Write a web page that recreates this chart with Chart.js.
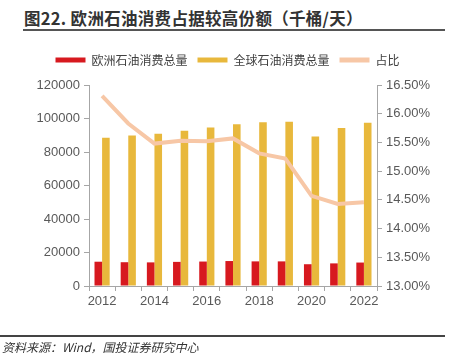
<!DOCTYPE html>
<html>
<head>
<meta charset="utf-8">
<script src="https://cdn.jsdelivr.net/npm/chart.js@4/dist/chart.umd.min.js"></script>
<style>
  body { margin: 0; width: 455px; height: 360px; background: #fff; position: relative; overflow: hidden;
         font-family: "Noto Sans CJK SC", sans-serif; }
  #title { position: absolute; left: 24px; top: 6px; font-size: 16.5px; font-weight: bold; color: #333; letter-spacing: 0.3px; }
  #topline { position: absolute; left: 23px; top: 29px; width: 422px; height: 2px; background: #555; }
  #botline { position: absolute; left: 0; top: 335px; width: 445px; height: 2px; background: #444; }
  #source { position: absolute; left: 2px; top: 338px; font-size: 12px; font-style: italic; color: #333; }
  #wrap { position: absolute; left: 0; top: 0; width: 455px; height: 360px; }
</style>
</head>
<body>
<div id="title">图22. 欧洲石油消费占据较高份额（千桶/天）</div>
<div id="topline"></div>
<div id="wrap"><canvas id="c"></canvas></div>
<div id="botline"></div>
<div id="source">资料来源：Wind，国投证券研究中心</div>
<script>
// data
const years = ['2012','2013','2014','2015','2016','2017','2018','2019','2020','2021','2022'];
const europe = [14500, 14200, 14100, 14400, 14600, 14900, 14700, 14700, 13000, 13500, 14000];
const world = [88500, 89900, 90900, 92700, 94600, 96600, 97800, 98000, 89300, 94400, 97400];
const share = [16.31, 15.83, 15.48, 15.53, 15.52, 15.57, 15.31, 15.22, 14.57, 14.43, 14.46];

const tickFont = { family: 'Liberation Sans', size: 13 };
const tickColor = '#595959';
const axisColor = '#a6a6a6';

// push the plot area a bit below the legend
const legendGap = {
  id: 'legendGap',
  beforeInit(chart) {
    const fit = chart.legend.fit;
    chart.legend.fit = function () {
      fit.call(this);
      this.height += 9;
    };
  }
};

new Chart(document.getElementById('c'), {
  data: {
    labels: years,
    datasets: [
      { type: 'line', label: '占比', data: share, yAxisID: 'y2', borderColor: '#f7c7a6',
        backgroundColor: '#f7c7a6', borderWidth: 4, pointRadius: 0, tension: 0, order: 0 },
      { type: 'bar', label: '欧洲石油消费总量', data: europe, yAxisID: 'y', backgroundColor: '#d7191f',
        barPercentage: 1, categoryPercentage: 0.58, order: 1 },
      { type: 'bar', label: '全球石油消费总量', data: world, yAxisID: 'y', backgroundColor: '#e8b83c',
        barPercentage: 1, categoryPercentage: 0.58, order: 1 }
    ]
  },
  options: {
    responsive: true,
    maintainAspectRatio: false,
    animation: false,
    layout: { padding: { top: 44, bottom: 50, left: 0, right: 0 } },
    plugins: {
      tooltip: { enabled: false },
      legend: {
        position: 'top',
        labels: {
          boxWidth: 30, boxHeight: 5, padding: 10, color: '#404040',
          font: { family: 'Noto Sans CJK SC', size: 12 },
          sort: (a, b) => [1, 2, 0].indexOf(a.datasetIndex) - [1, 2, 0].indexOf(b.datasetIndex),
          generateLabels: (chart) => chart.data.datasets.map((ds, i) => ({
            text: ds.label, fillStyle: ds.backgroundColor, strokeStyle: ds.backgroundColor,
            lineWidth: 0, datasetIndex: i, fontColor: '#404040'
          }))
        }
      }
    },
    scales: {
      x: {
        grid: { drawOnChartArea: false, color: axisColor, tickLength: 5, offset: true },
        border: { color: axisColor },
        ticks: { color: tickColor, font: tickFont, autoSkip: false, maxRotation: 0,
                 callback: function (v, i) { return i % 2 === 0 ? this.getLabelForValue(v) : ''; } },
        afterFit: (s) => { s.height = 24; }
      },
      y: {
        position: 'left', min: 0, max: 120000,
        ticks: { stepSize: 20000, color: tickColor, font: tickFont, padding: 4,
                 callback: (v) => String(v) },
        grid: { drawOnChartArea: false, color: axisColor, tickLength: 5 },
        border: { color: axisColor },
        afterFit: (s) => { s.width = 89; }
      },
      y2: {
        position: 'right', min: 13, max: 16.5,
        ticks: { stepSize: 0.5, color: tickColor, font: tickFont, padding: 4,
                 callback: (v) => v.toFixed(2) + '%' },
        grid: { drawOnChartArea: false, color: axisColor, tickLength: 5 },
        border: { color: axisColor },
        afterFit: (s) => { s.width = 455 - 377; }
      }
    }
  },
  plugins: [legendGap]
});
</script>
</body>
</html>
